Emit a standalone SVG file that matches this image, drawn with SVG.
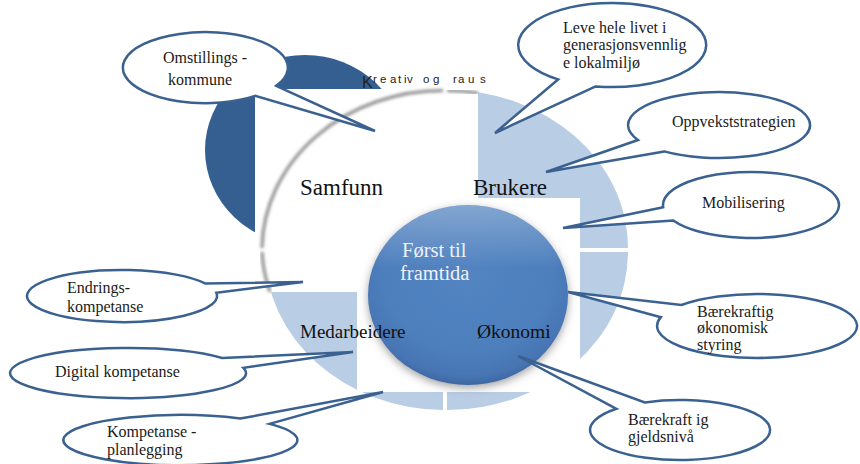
<svg xmlns="http://www.w3.org/2000/svg" width="860" height="464" viewBox="0 0 860 464">
<defs>
<style>
.co{fill:#fff;stroke:#3A6190;stroke-width:2.5;stroke-linejoin:miter}
.ct{font-family:"Liberation Serif","Times New Roman",serif;font-size:16px;fill:#1a1a1a}
.ql{font-family:"Liberation Serif","Times New Roman",serif;fill:#111}
.lb{fill:#B9CDE5}
.wh{fill:#fff}
.sh{fill:none;stroke:#9a9a9a;stroke-width:3.5;filter:url(#blur)}
.wa{font-family:"Liberation Sans",Arial,sans-serif;fill:#222}
</style>
<filter id="blur" x="-20%" y="-20%" width="140%" height="140%"><feGaussianBlur stdDeviation="1.8"/></filter>
<filter id="sphsh" x="-20%" y="-20%" width="140%" height="140%">
<feGaussianBlur in="SourceAlpha" stdDeviation="4"/>
<feOffset dx="0" dy="3" result="b"/>
<feFlood flood-color="#555" flood-opacity="0.55"/>
<feComposite in2="b" operator="in" result="s"/>
<feMerge><feMergeNode in="s"/><feMergeNode in="SourceGraphic"/></feMerge>
</filter>
<radialGradient id="sph" cx="0.5" cy="0.4" r="0.6">
<stop offset="0" stop-color="#5284C2"/>
<stop offset="0.7" stop-color="#4E7FBD"/>
<stop offset="0.92" stop-color="#4775B3"/>
<stop offset="1" stop-color="#3D68A3"/>
</radialGradient>
<linearGradient id="hl" x1="0" y1="0" x2="0" y2="1">
<stop offset="0" stop-color="#ffffff" stop-opacity="0.3"/>
<stop offset="0.35" stop-color="#ffffff" stop-opacity="0"/>
</linearGradient>
</defs>

<g id="background">
<ellipse cx="305" cy="150" rx="100" ry="95" fill="#365F91"/>
<rect class="wh" x="255" y="89" width="190" height="162"/>
<path class="lb" d="M447,248 L447,90 A181 158 0 0 1 628,248 Z"/>
<path class="lb" d="M447,252 L628,252 A181 158 0 0 1 447,410 Z"/>
<path class="lb" d="M443,252 L443,410 A180 158 0 0 1 265,252 Z"/>
<rect class="wh" x="445" y="80" width="33" height="170"/>
<rect class="wh" x="445" y="198" width="135" height="194"/>
<rect class="wh" x="255" y="250" width="190" height="42"/>
<rect class="wh" x="357" y="250" width="88" height="142"/>
<path class="sh" d="M443,90.5 A181 160 0 0 0 262,248"/>
<path class="sh" d="M447,90.5 A181 160 0 0 1 478,93"/>
<path class="sh" d="M262,252 A181 160 0 0 0 270,292"/>
</g>

<g id="sphere">
<ellipse cx="468" cy="295" rx="100" ry="90" fill="url(#sph)" filter="url(#sphsh)"/>
<ellipse cx="468" cy="295" rx="100" ry="90" fill="url(#hl)"/>
<text class="ql" font-size="20.5" style="fill:#EEF2F8"><tspan x="402" y="257">Først til</tspan><tspan x="400" y="280">framtida</tspan></text>
</g>

<g id="labels">
<text class="ql" x="300" y="195" font-size="23">Samfunn</text>
<text class="ql" x="473" y="195" font-size="23">Brukere</text>
<text class="ql" x="300" y="338" font-size="19">Medarbeidere</text>
<text class="ql" x="477" y="338" font-size="19.5">Økonomi</text>
</g>

<g id="wordart">
<text class="wa"><tspan x="362" y="88" font-size="16">K</tspan><tspan font-size="11.5" y="83" x="373 380 390 398 404 407 416 423 433 446 453 458 468 480">reativ og raus</tspan></text>
</g>

<g id="callout-omstilling">
<path class="co" d="M276.2,85.8 L375,131 L255.2,95.9 A82.5 35.5 0 1 1 276.2,85.8 Z"/>
<text class="ct"><tspan x="163" y="63">Omstillings  -</tspan><tspan x="168" y="85">kommune</tspan></text>
</g>
<g id="callout-leve">
<path class="co" d="M595.7,86.4 L495,133 L558.1,79.4 A94 42 0 1 1 595.7,86.4 Z"/>
<text class="ct"><tspan x="563" y="33">Leve hele livet i</tspan><tspan x="563" y="50">generasjonsvennlig</tspan><tspan x="563" y="68">e lokalmiljø</tspan></text>
</g>
<g id="callout-oppvekst">
<path class="co" d="M664.2,151.4 L546,172 L637.9,140.0 A91 33 0 1 1 664.2,151.4 Z"/>
<text class="ct" x="672" y="127">Oppvekststrategien</text>
</g>
<g id="callout-mobilisering">
<path class="co" d="M673.3,220.5 L563,228 L663.2,207.3 A88 33 0 1 1 673.3,220.5 Z"/>
<text class="ct" x="702" y="208">Mobilisering</text>
</g>
<g id="callout-okonomisk">
<path class="co" d="M660.9,317.2 L568,292 L681.5,305.0 A100 32 0 1 1 660.9,317.2 Z"/>
<text class="ct"><tspan x="697" y="317">Bærekraftig</tspan><tspan x="697" y="333">økonomisk</tspan><tspan x="697" y="350">styring</tspan></text>
</g>
<g id="callout-gjeld">
<path class="co" d="M616.4,408.8 L518,356 L644.8,402.4 A90 30 0 1 1 616.4,408.8 Z"/>
<text class="ct"><tspan x="628" y="425">Bærekraft  ig</tspan><tspan x="628" y="442">gjeldsnivå</tspan></text>
</g>
<g id="callout-endring">
<path class="co" d="M205.1,283.4 L303,282 L216.3,292.8 A95 26 0 1 1 205.1,283.4 Z"/>
<text class="ct"><tspan x="67" y="293">Endrings-</tspan><tspan x="67" y="312">kompetanse</tspan></text>
</g>
<g id="callout-digital">
<path class="co" d="M222.2,358.0 L353,352 L243.4,367.8 A118 25 0 1 1 222.2,358.0 Z"/>
<text class="ct" x="55" y="377">Digital kompetanse</text>
</g>
<g id="callout-kompetanse">
<path class="co" d="M240.3,418.6 L383,392 L269.6,423.9 A117 25 0 1 1 240.3,418.6 Z"/>
<text class="ct"><tspan x="107" y="437">Kompetanse  -</tspan><tspan x="107" y="455">planlegging</tspan></text>
</g>
</svg>
